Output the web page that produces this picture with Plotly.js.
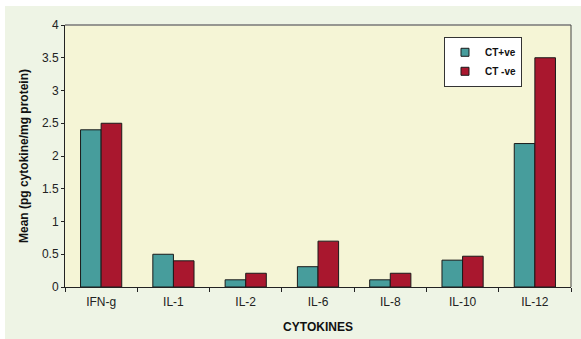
<!DOCTYPE html>
<html>
<head>
<meta charset="utf-8">
<script src="https://cdn.plot.ly/plotly-3.0.1.min.js"></script>
<style>
  html, body { margin: 0; padding: 0; background: #ffffff; width: 581px; height: 339px; overflow: hidden; }
  #chart { position: absolute; left: 5px; top: 6px; width: 576px; height: 333px; }
</style>
</head>
<body>
<div id="chart"></div>
<script>
const categories = ["IFN-g", "IL-1", "IL-2", "IL-6", "IL-8", "IL-10", "IL-12"];
const seriesNames = ["CT+ve", "CT -ve"];
const ctPositive = [2.4, 0.5, 0.11, 0.31, 0.11, 0.41, 2.19];
const ctNegative = [2.5, 0.4, 0.21, 0.7, 0.21, 0.47, 3.5];
const yTickValues = [0, 0.5, 1, 1.5, 2, 2.5, 3, 3.5, 4];
const yTickLabels = ["0", "0.5", "1", "1.5", "2", "2.5", "3", "3.5", "4"];
const seriesColors = ["#479d9c", "#a9172e"];

const traces = [
  {
    type: "bar", name: seriesNames[0], x: categories, y: ctPositive, showlegend: false,
    marker: { color: seriesColors[0], line: { color: "#1a1a1a", width: 1 } }
  },
  {
    type: "bar", name: seriesNames[1], x: categories, y: ctNegative, showlegend: false,
    marker: { color: seriesColors[1], line: { color: "#1a1a1a", width: 1 } }
  },
  {
    type: "scatter", mode: "markers", name: seriesNames[0], x: [null], y: [null],
    marker: { symbol: "square", size: 8, color: seriesColors[0], line: { color: "#1a1a1a", width: 1 } }
  },
  {
    type: "scatter", mode: "markers", name: seriesNames[1], x: [null], y: [null],
    marker: { symbol: "square", size: 8, color: seriesColors[1], line: { color: "#1a1a1a", width: 1 } }
  }
];

const layout = {
  width: 576, height: 333,
  margin: { l: 60, r: 10, t: 19, b: 52 },
  paper_bgcolor: "#eef4e5",
  plot_bgcolor: "#f5f5d6",
  barmode: "group",
  bargap: 0.43,
  bargroupgap: 0,
  font: { family: "Liberation Sans, Arial, sans-serif", size: 12, color: "#222" },
  xaxis: {
    type: "category",
    tickson: "boundaries",
    ticks: "outside", ticklen: 4, tickcolor: "#222", tickwidth: 1,
    showline: true, linecolor: "#222", linewidth: 1,
    showgrid: false, zeroline: false,
    tickfont: { size: 12, color: "#222" },
    ticklabelstandoff: 4,
    title: { text: "CYTOKINES", font: { size: 12, color: "#111", weight: "bold" }, standoff: 14 }
  },
  yaxis: {
    range: [0, 4],
    tickvals: yTickValues, ticktext: yTickLabels,
    ticks: "outside", ticklen: 3, tickcolor: "#222",
    showline: true, linecolor: "#222", linewidth: 1,
    showgrid: false, zeroline: false,
    tickfont: { size: 12, color: "#222" },
    title: { text: "Mean (pg cytokine/mg protein)", font: { size: 12, color: "#111", weight: "bold" }, standoff: 10 }
  },
  shapes: [
    { type: "line", xref: "paper", yref: "paper", x0: 0, x1: 1, y0: 1, y1: 1, line: { color: "#777", width: 1.5 } },
    { type: "line", xref: "paper", yref: "paper", x0: 1, x1: 1, y0: 0, y1: 1, line: { color: "#444", width: 1 } }
  ],
  showlegend: true,
  legend: {
    x: 0.749, y: 0.955, xanchor: "left", yanchor: "top",
    bgcolor: "#ffffff", bordercolor: "#333", borderwidth: 1,
    font: { size: 10, color: "#111", weight: "bold" },
    tracegroupgap: 0, itemwidth: 30
  }
};

Plotly.newPlot("chart", traces, layout, { displayModeBar: false, staticPlot: true });
</script>
</body>
</html>
